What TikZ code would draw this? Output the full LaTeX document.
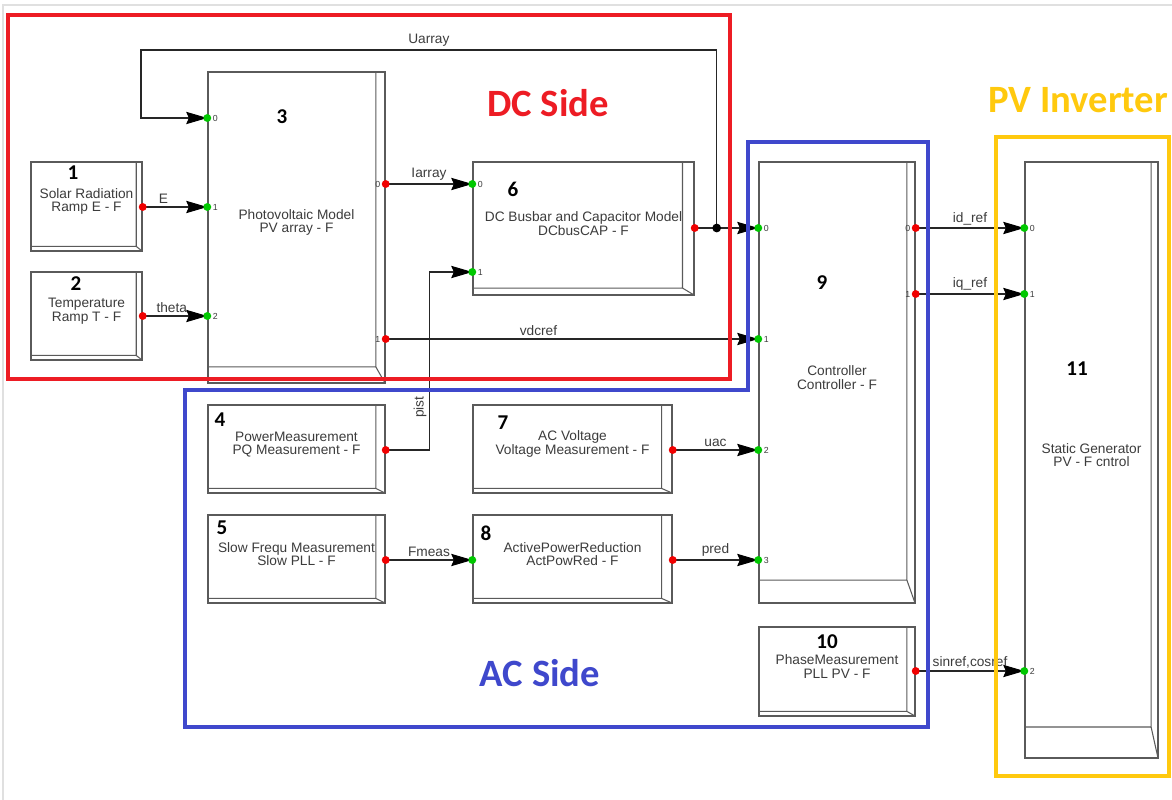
\documentclass[tikz,border=0pt]{standalone}
\usepackage{fontspec}
\setmainfont{Liberation Sans}
\newfontfamily\calibrifont{Carlito}
\usetikzlibrary{arrows.meta, calc, fit}
\definecolor{dcred}{RGB}{237,28,36}
\definecolor{acblue}{RGB}{63,72,204}
\definecolor{invgold}{RGB}{255,201,14}
\definecolor{portred}{RGB}{240,0,0}
\definecolor{portgreen}{RGB}{0,200,0}
\definecolor{blockgray}{HTML}{5A5A5A}
\definecolor{textgray}{HTML}{3C3C3C}
\newcommand\blocktext{\fontsize{7.8}{7.6}\selectfont}
\newcommand\porttext{\fontsize{5}{5}\selectfont}

\begin{document}
\begin{tikzpicture}[
  x=0.02cm, y=-0.02cm,
  bevel/.style={path picture={
    \draw[blockgray, line width=0.6pt]
      let \p1=(path picture bounding box.south west),
          \p2=(path picture bounding box.north east),
          \n1={0.052*(\x2-\x1)}, \n2={0.052*(\y2-\y1)} in
      (\x2-\n1,\y2) -- (\x2-\n1,\y1+\n2) -- (\x1,\y1+\n2)
      (\x2-\n1,\y1+\n2) -- (\x2,\y1);
  }},
  pfblock/.style={
    draw=blockgray, fill=white, line width=0.8pt,
    inner sep=0pt, align=center, font=\blocktext, text=textgray,
    bevel
  },
  num/.style={font=\calibrifont\bfseries\fontsize{12}{12}\selectfont, text=black, inner sep=0pt},
  conn/.style={-{Stealth[length=12pt, width=7pt, inset=1.5pt, black]}, line width=0.6pt, black!85},
  siglbl/.style={font=\blocktext, text=textgray, inner sep=1.5pt},
  portlbl/.style={font=\porttext, text=textgray, inner sep=0.5pt},
  inport/.style={circle, fill=portgreen, inner sep=0pt, minimum size=4.5pt},
  outport/.style={circle, fill=portred, inner sep=0pt, minimum size=4.5pt},
  junction/.style={circle, fill=black, inner sep=0pt, minimum size=5pt},
  groupframe/.style={line width=2.4pt, inner sep=0pt},
  grouptitle/.style={font=\calibrifont\bfseries\fontsize{22}{22}\selectfont, inner sep=0pt},
  screenedge/.style={draw=black!12, line width=1.2pt}
]
\useasboundingbox (0,0) rectangle (1172,800);
\draw[screenedge] (3,800) -- (3,5) -- (1172,5);

% ---- DC side blocks ----
\node[pfblock, fit={(31,162)(142,251)}] (solar) {Solar Radiation\\Ramp E - F};
\node[pfblock, fit={(31,272)(142,360)}] (temp) {Temperature\\Ramp T - F};
\node[pfblock, fit={(208,72)(385,383)}] (pvarray) {Photovoltaic Model\\PV array - F};
\node[pfblock, fit={(473,162)(694,295)}] (dcbus) {DC Busbar and Capacitor Model\\DCbusCAP - F};

% ---- AC side blocks ----
\node[pfblock, fit={(208,405)(385,493)}] (pqmeas) {PowerMeasurement\\PQ Measurement - F};
\node[pfblock, fit={(208,515)(385,603)}] (slowpll) {Slow Frequ Measurement\\Slow PLL - F};
\node[pfblock, fit={(473,405)(672,493)}] (acvolt) {AC Voltage\\Voltage Measurement - F};
\node[pfblock, fit={(473,515)(672,603)}] (actpow) {ActivePowerReduction\\ActPowRed - F};
\node[pfblock, fit={(759,162)(915,603)}] (ctrl) {Controller\\Controller - F};
\node[pfblock, fit={(759,627)(915,716)}] (phase) {PhaseMeasurement\\PLL PV - F};

% ---- PV inverter ----
\node[pfblock, fit={(1025,162)(1158,758)}] (statgen) {Static Generator\\PV - F cntrol};

% Block numbers
\node[num] (num1) at (73,173) {1};
\node[num] (num2) at (76,284) {2};
\node[num] (num3) at (282,117) {3};
\node[num] (num4) at (220,420) {4};
\node[num] (num5) at (222,528) {5};
\node[num] (num6) at (513,189) {6};
\node[num] (num7) at (503,423) {7};
\node[num] (num8) at (486,533) {8};
\node[num] (num9) at (822,283) {9};
\node[num] (num10) at (827,642) {10};
\node[num] (num11) at (1077,369) {11};

% Ports
\coordinate (solar-out) at (solar.east |- 0,207);
\coordinate (temp-out) at (temp.east |- 0,316);
\foreach \p/\y in {0/118, 1/207, 2/316}
  \coordinate (pv-i\p) at (pvarray.west |- 0,\y);
\coordinate (pv-o0) at (pvarray.east |- 0,184);
\coordinate (pv-o1) at (pvarray.east |- 0,339);
\coordinate (dc-i0) at (dcbus.west |- 0,184);
\coordinate (dc-i1) at (dcbus.west |- 0,272);
\coordinate (dc-out) at (dcbus.east |- 0,228);
\coordinate (pq-out) at (pqmeas.east |- 0,450);
\coordinate (spll-out) at (slowpll.east |- 0,560);
\coordinate (acv-out) at (acvolt.east |- 0,450);
\coordinate (apr-in) at (actpow.west |- 0,560);
\coordinate (apr-out) at (actpow.east |- 0,560);
\foreach \p/\y in {0/228, 1/339, 2/450, 3/560}
  \coordinate (ctrl-i\p) at (ctrl.west |- 0,\y);
\coordinate (ctrl-o0) at (ctrl.east |- 0,228);
\coordinate (ctrl-o1) at (ctrl.east |- 0,294);
\coordinate (phase-out) at (phase.east |- 0,671);
\foreach \p/\y in {0/228, 1/294, 2/671}
  \coordinate (sg-i\p) at (statgen.west |- 0,\y);
\coordinate (jct) at ($(dc-out)+(22,0)$);
\coordinate (uloop) at (141,50);

% Signals
\draw[conn] (solar-out) -- node[pos=0.32, above, siglbl]{E} (pv-i1);
\draw[conn] (temp-out) -- node[pos=0.45, above, siglbl]{theta} (pv-i2);
\draw[conn] (pv-o0) -- node[midway, above, siglbl]{Iarray} (dc-i0);
\draw[conn] (pv-o1) -- node[pos=0.41, above, siglbl]{vdcref} (ctrl-i1);
\draw[conn] (dc-out) -- (ctrl-i0);
\draw[conn] (jct) |- node[pos=0.75, above, siglbl]{Uarray} (uloop) |- (pv-i0);
\draw[conn] (pq-out) -- ($(pq-out)+(44,0)$)
  |- node[pos=0.12, rotate=90, anchor=south, siglbl]{pist} (dc-i1);
\draw[conn] (spll-out) -- node[midway, above, siglbl]{Fmeas} (apr-in);
\draw[conn] (acv-out) -- node[midway, above, siglbl]{uac} (ctrl-i2);
\draw[conn] (apr-out) -- node[midway, above, siglbl]{pred} (ctrl-i3);
\draw[conn] (ctrl-o0) -- node[midway, above, siglbl]{id\_ref} (sg-i0);
\draw[conn] (ctrl-o1) -- node[midway, above, siglbl]{iq\_ref} (sg-i1);
\draw[conn] (phase-out) -- node[midway, above, siglbl]{sinref,cosref} (sg-i2);

% Port dots
\node[junction] (jct-dot) at (jct) {};
\foreach \p in {solar-out, temp-out, dc-out, pq-out, spll-out, acv-out, apr-out, phase-out}
  \node[outport] (\p-dot) at (\p) {};
\foreach \p/\t in {pv-o0/0, pv-o1/1, ctrl-o0/0, ctrl-o1/1}
  \node[outport, label={[portlbl]left:\t}] (\p-dot) at (\p) {};
\node[inport] (apr-in-dot) at (apr-in) {};
\foreach \p/\t in {pv-i0/0, pv-i1/1, pv-i2/2, dc-i0/0, dc-i1/1,
    ctrl-i0/0, ctrl-i1/1, ctrl-i2/2, ctrl-i3/3, sg-i0/0, sg-i1/1, sg-i2/2}
  \node[inport, label={[portlbl]right:\t}] (\p-dot) at (\p) {};

% ---- Group frames ----
\node[groupframe, draw=dcred, fit={(8,15)(730,379)}] (dcside) {};
\draw[groupframe, draw=acblue] (185,390) -- (748,390) -- (748,142)
  -- (928,142) -- (928,727) -- (185,727) -- cycle;
\node[groupframe, draw=invgold, fit={(996,137)(1169,776)}] (pvinv) {};

\node[grouptitle, text=dcred] (dctitle) at (548,103) {DC Side};
\node[grouptitle, text=acblue] (actitle) at (540,673) {AC Side};
\node[grouptitle, text=invgold, anchor=west] (invtitle) at (988,100) {PV Inverter};

\end{tikzpicture}
\end{document}
